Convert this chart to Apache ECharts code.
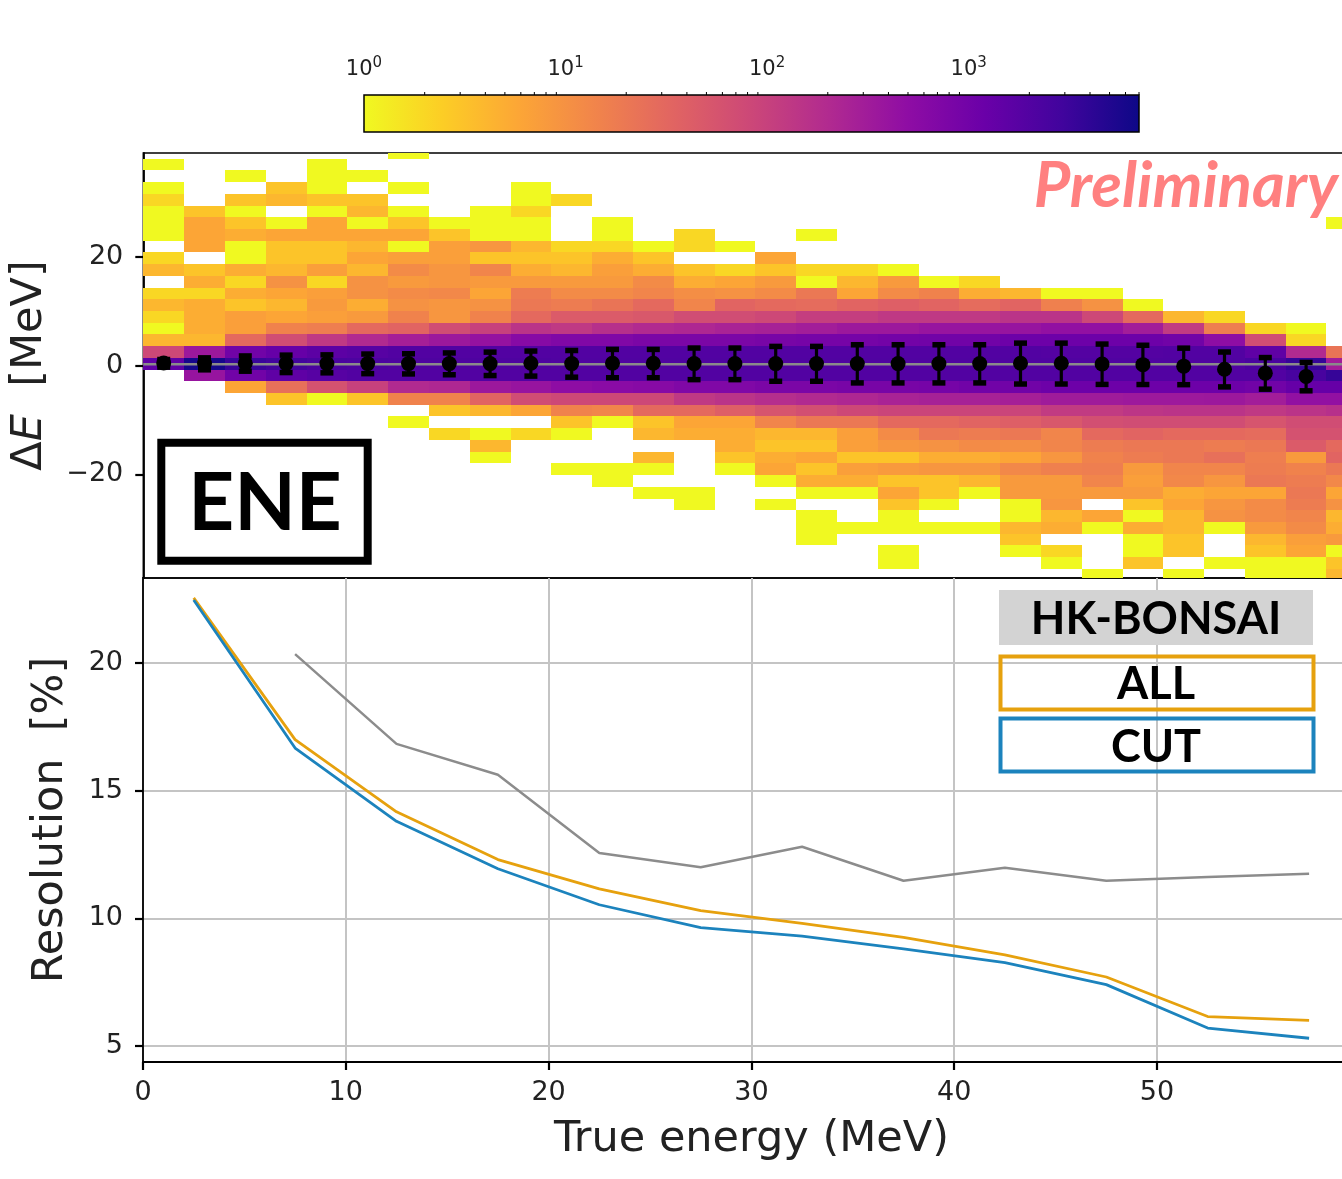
<!DOCTYPE html>
<html><head><meta charset="utf-8">
<style>html,body{margin:0;padding:0;background:#fff;overflow:hidden}#c{width:1342px;height:1179px}</style>
<script src="https://cdn.jsdelivr.net/npm/echarts@6/dist/echarts.min.js"></script>
</head><body><div id="c"></div>
<script>
// ---------- data ----------
const binWidthX = 2;
const binWidthY = 2.151;
const rowZeroLow = -0.75;
// counts per column, going upward from the row just above the centre row
const countsAbove = [
 [80,4,1,2,4,2,0,4,2,0,1,1,1,2,1,0,1],
 [350,4,5,5,5,2,5,3,0,6,6,6,3],
 [1000,30,7,7,3,5,2,5,1,1,5,3,1,3,0,1],
 [1300,70,15,6,4,6,10,4,3,3,6,1,0,4,3],
 [1600,130,17,7,8,7,2,7,3,3,6,6,1,3,1,1,1],
 [1800,200,30,8,5,10,10,4,6,4,6,1,4,3,0,1],
 [2000,280,35,15,10,12,8,12,7,1,6,3,1,0,1,0,0,1],
 [2000,350,70,9,9,13,9,9,7,7,3,1],
 [2000,420,100,15,10,6,8,14,3,9,1,1,1],
 [2000,600,150,30,20,18,8,5,3,4,1,1,2,1,1],
 [2000,700,130,45,18,12,8,4,3,2,0,0,0,2],
 [2000,700,170,45,22,12,8,7,5,2,1,1],
 [2000,800,200,50,30,14,12,5,3,1],
 [2000,800,220,70,14,11,5,3,0,2,2],
 [2000,800,250,70,35,10,6,2,0,1],
 [2000,850,270,80,30,12,8,3,6],
 [2000,900,300,110,28,20,1,2,0,0,1],
 [2000,900,350,110,35,6,4,2],
 [2000,950,350,130,40,12,8,1],
 [2000,1000,400,130,35,15,1],
 [2000,1000,400,130,28,5,2],
 [2000,1100,400,150,35,4],
 [1900,1100,450,150,16,1],
 [1900,1100,450,80,10,1],
 [1900,1100,300,30,1],
 [2000,1000,120,4],
 [2000,500,17,2],
 [1500,70,2],
 [200,2,1],
 [22,0,0,0,0,0,0,0,0,0,0,1]
];
// counts in the row that holds zero, per column
const countsCentre = [1500,6000,3300,2800,2400,2300,2200,2200,2200,2200,2100,2100,2100,2100,2100,2100,2100,2100,2100,2100,2100,2100,2100,2100,2100,2100,2100,2400,3500,300];
// counts per column, going downward from the row just below the centre row
const countsBelow = [
 [],
 [400],
 [1000,6],
 [1500,25,3],
 [1800,60,1],
 [2000,100,3],
 [2000,200,15,0,1],
 [2000,220,15,3,0,2],
 [2000,350,35,4,0,1,4,1],
 [2000,400,70,6,0,2],
 [2000,500,80,15,3,1,0,0,1],
 [2000,550,80,14,1,0,0,0,1,1],
 [2000,600,80,30,3,4,0,4,1,0,1],
 [2000,700,130,30,6,5,0,0,0,0,1,1],
 [2000,700,150,40,6,5,5,3,1],
 [2000,800,180,55,14,4,3,5,6,1,0,1],
 [2000,800,200,65,20,4,3,6,3,5,1,0,1,1,1],
 [2000,850,220,80,20,7,7,3,7,5,1,0,0,1],
 [2000,850,250,90,30,12,9,3,8,3,6,3,1,1,0,1,1],
 [2000,900,270,90,30,20,10,5,9,3,3,1,0,1],
 [2000,1000,270,90,35,18,12,5,9,4,1,0,0,1],
 [2000,1000,280,90,40,20,11,6,13,8,8,1,1,4,3,1],
 [2000,1100,320,120,50,14,14,9,16,8,8,9,4,5,0,2,1],
 [2000,1100,320,120,65,30,18,15,17,14,8,0,6,1,0,0,0,1],
 [2000,1100,340,140,70,35,20,18,8,7,8,3,1,5,1,1,3],
 [2000,1100,340,150,70,30,20,20,14,13,5,6,4,4,3,3,0,1],
 [2000,1100,350,150,70,30,18,25,14,9,6,9,10,1,0,0,1],
 [2000,1000,300,130,55,28,20,17,18,20,6,12,12,8,4,3,1,1],
 [2500,1300,450,150,70,60,45,8,15,18,20,18,14,12,7,6,1,1],
 [3500,1300,450,170,70,60,30,35,20,13,6,10,4,5,8,1,3,4]
];
const pointEnergy = [1,3,5,7,9,11,13,15,17,19,21,23,25,27,29,31,33,35,37,39,41,43,45,47,49,51,53,55,57];
const pointMean = [0.45,0.35,0.4,0.35,0.35,0.35,0.35,0.35,0.35,0.4,0.35,0.4,0.4,0.35,0.35,0.35,0.35,0.35,0.35,0.35,0.35,0.4,0.4,0.28,0.16,-0.12,-0.68,-1.4,-2.0];
const pointError = [0.7,1.1,1.4,1.6,1.65,1.8,1.85,2.0,2.15,2.3,2.45,2.6,2.6,2.9,2.9,3.2,3.2,3.5,3.5,3.5,3.5,3.75,3.75,3.7,3.6,3.35,3.2,2.9,2.6];
const zeroLine = 0.25;

const resolutionEnergy = [2.5,7.5,12.5,17.5,22.5,27.5,32.5,37.5,42.5,47.5,52.5,57.5];
const resolutionAll = [22.55,17.0,14.17,12.3,11.15,10.3,9.8,9.25,8.57,7.7,6.15,6.0];
const resolutionCut = [22.47,16.67,13.8,11.94,10.53,9.63,9.3,8.8,8.26,7.4,5.7,5.3];
const resolutionGrey = [null,20.35,16.83,15.62,12.56,12.0,12.8,11.47,11.98,11.47,11.62,11.74];

const colorMajorTicks = [1,10,100,1000];
const colorMinorTicks = [2,3,4,5,6,7,8,9,20,30,40,50,60,70,80,90,200,300,400,500,600,700,800,900,2000,3000,4000,5000,6000,7000];
const colorMax = 7000;
const deltaETicks = [-20,0,20];
const resolutionTicks = [5,10,15,20];
const plasmaReversed = ['#f0f921','#fcce25','#fca636','#f1844b','#e16462','#cc4778','#b12a90','#8f0da4','#6a00a8','#41049d','#0d0887'];

// ---------- derived series data ----------
const cellData = [];
countsCentre.forEach((c, col) => {
  const x = col * binWidthX;
  if (c > 0) cellData.push([x, rowZeroLow, c]);
  countsAbove[col].forEach((v, i) => { if (v > 0) cellData.push([x, rowZeroLow + (i + 1) * binWidthY, v]); });
  countsBelow[col].forEach((v, i) => { if (v > 0) cellData.push([x, rowZeroLow - (i + 1) * binWidthY, v]); });
});
const shade = c => echarts.color.lerp(Math.log10(c) / Math.log10(colorMax), plasmaReversed);
const errData = pointEnergy.map((e, i) => [e, pointMean[i] - pointError[i], pointMean[i] + pointError[i]]);
const meanData = pointEnergy.map((e, i) => [e, pointMean[i]]);
const pairs = a => resolutionEnergy.map((e, i) => [e, a[i]]);

const tickFont = {fontFamily:'DejaVu Sans', fontSize:27, color:'#222'};
const black = {lineStyle:{color:'#000', width:1.8}};
const tickStyle = {color:'#000', width:2.2};
const chart = echarts.init(document.getElementById('c'), null, {renderer:'canvas', width:1342, height:1179});
const sans = 'Lato';
function boxText(cx, cy, txt, size) {
  return {type:'text', z:50, style:{x:cx, y:cy, text:txt, align:'center', verticalAlign:'middle', fontFamily:sans, fontWeight:'bold', fontSize:size, fill:'#000'}};
}
chart.setOption({
  animation:false,
  backgroundColor:'#fff',
  grid:[
    {left:143.3, top:153, width:1224, height:425, show:true, borderColor:'#000', borderWidth:1.5, outerBoundsMode:'none'},
    {left:143, top:578, width:1216.8, height:484, show:true, borderColor:'#000', borderWidth:1.5, outerBoundsMode:'none'},
    {left:364, top:95, width:775, height:37, outerBoundsMode:'none'}
  ],
  xAxis:[
    {gridIndex:0, type:'value', min:0, max:60, axisLabel:{show:false}, axisTick:{show:false}, splitLine:{show:false}, axisLine:{show:false}},
    {gridIndex:1, type:'value', min:0, max:60, interval:10, axisLabel:Object.assign({margin:17}, tickFont),
     axisTick:{length:8, lineStyle:tickStyle}, axisLine:Object.assign({onZero:false}, black),
     splitLine:{show:true, lineStyle:{color:'#c4c4c4', width:2}},
     name:'True energy (MeV)', nameLocation:'middle', nameGap:56, nameTextStyle:{fontFamily:'DejaVu Sans', fontSize:43, color:'#222'}},
    {gridIndex:2, type:'log', logBase:10, min:1, max:colorMax, position:'top', axisLine:{show:false}, splitLine:{show:false},
     axisTick:{length:6, customValues:colorMajorTicks, lineStyle:{color:'#000', width:1.2}},
     axisLabel:{customValues:colorMajorTicks, margin:15, formatter:v => '{b|10}{s|' + Math.round(Math.log10(v)) + '}',
       rich:{b:{fontFamily:'DejaVu Sans', fontSize:21, color:'#222', lineHeight:24, verticalAlign:'bottom'},
             s:{fontFamily:'DejaVu Sans', fontSize:15, color:'#222', lineHeight:14, verticalAlign:'top', padding:[0,0,13,0]}}}}
  ],
  yAxis:[
    {gridIndex:0, type:'value', min:-39, max:39, axisLine:Object.assign({onZero:false}, black),
     axisTick:{length:8, customValues:deltaETicks, lineStyle:tickStyle},
     axisLabel:Object.assign({customValues:deltaETicks, margin:20, padding:[4,0,0,0], formatter:v => String(v).replace('-', '\u2212')}, tickFont),
     splitLine:{show:false},
     name:'{d|\u0394}{e|E}{d|  [MeV]}', nameLocation:'middle', nameGap:92, nameRotate:90,
     nameTextStyle:{rich:{d:{fontFamily:'DejaVu Sans', fontSize:43, color:'#222'}, e:{fontFamily:'DejaVu Sans', fontStyle:'italic', fontSize:43, color:'#222'}}}},
    {gridIndex:1, type:'value', min:4.37, max:23.33, axisLine:Object.assign({onZero:false}, black),
     axisTick:{length:8, customValues:resolutionTicks, lineStyle:tickStyle},
     axisLabel:Object.assign({customValues:resolutionTicks, margin:20, padding:[4,0,0,0]}, tickFont),
     splitLine:{show:true, lineStyle:{color:'#c4c4c4', width:2}},
     name:'Resolution  [%]', nameLocation:'middle', nameGap:71, nameRotate:90,
     nameTextStyle:{fontFamily:'DejaVu Sans', fontSize:43, color:'#222'}},
    {gridIndex:2, type:'value', min:0, max:1, show:false}
  ],
  series:[
    {type:'custom', name:'counts', xAxisIndex:0, yAxisIndex:0, clip:true, z:2, data:cellData,
     renderItem:(p, api) => {
       const a = api.coord([api.value(0), api.value(1)]);
       const b = api.coord([api.value(0) + binWidthX, api.value(1) + binWidthY]);
       const x = Math.round(a[0]), x2 = Math.round(b[0]), y = Math.round(b[1]), y2 = Math.round(a[1]);
       return {type:'rect', shape:{x:x, y:y, width:x2 - x, height:y2 - y}, style:{fill:shade(api.value(2))}};
     }},
    {type:'line', name:'zero', xAxisIndex:0, yAxisIndex:0, z:3, symbol:'none', silent:true,
     data:[[0, zeroLine],[60, zeroLine]], lineStyle:{color:'#8a8a8a', width:2.5}},
    {type:'custom', name:'error bars', xAxisIndex:0, yAxisIndex:0, z:4, data:errData,
     renderItem:(p, api) => {
       const lo = api.coord([api.value(0), api.value(1)]);
       const hi = api.coord([api.value(0), api.value(2)]);
       return {type:'group', children:[
         {type:'line', shape:{x1:lo[0], y1:lo[1], x2:hi[0], y2:hi[1]}, style:{stroke:'#000', lineWidth:3.2}},
         {type:'rect', shape:{x:lo[0] - 6.5, y:lo[1] - 2.5, width:13, height:5.5}, style:{fill:'#000'}},
         {type:'rect', shape:{x:hi[0] - 6.5, y:hi[1] - 2.5, width:13, height:5.5}, style:{fill:'#000'}}
       ]};
     }},
    {type:'scatter', name:'mean', xAxisIndex:0, yAxisIndex:0, z:5, symbolSize:15, data:meanData, itemStyle:{color:'#000', opacity:1}},
    {type:'line', name:'HK-BONSAI', xAxisIndex:1, yAxisIndex:1, z:3, symbol:'none', data:pairs(resolutionGrey), connectNulls:false, lineStyle:{color:'#8c8c8c', width:2.5}},
    {type:'line', name:'ALL', xAxisIndex:1, yAxisIndex:1, z:4, symbol:'none', data:pairs(resolutionAll), lineStyle:{color:'#e6a10e', width:2.8}},
    {type:'line', name:'CUT', xAxisIndex:1, yAxisIndex:1, z:5, symbol:'none', data:pairs(resolutionCut), lineStyle:{color:'#1c83bd', width:2.8}},
    {type:'custom', name:'colorbar', xAxisIndex:2, yAxisIndex:2, z:2, data:[[1, colorMax]],
     renderItem:(p, api) => {
       const a = api.coord([api.value(0), 0]);
       const b = api.coord([api.value(1), 1]);
       const stops = plasmaReversed.map((c, i) => ({offset:i / (plasmaReversed.length - 1), color:c}));
       return {type:'rect', shape:{x:a[0], y:b[1], width:b[0] - a[0], height:a[1] - b[1]},
         style:{fill:new echarts.graphic.LinearGradient(0, 0, 1, 0, stops), stroke:'#000', lineWidth:1.5}};
     }},
    {type:'custom', name:'minor ticks', xAxisIndex:2, yAxisIndex:2, z:3, data:colorMinorTicks.map(v => [v]),
     renderItem:(p, api) => {
       const a = api.coord([api.value(0), 1]);
       return {type:'line', shape:{x1:a[0], y1:a[1], x2:a[0], y2:a[1] - 3}, style:{stroke:'#000', lineWidth:1}};
     }}
  ],
  graphic:[
    {type:'text', z:50, style:{x:1338, y:187, text:'Preliminary', align:'right', verticalAlign:'middle', fontFamily:sans, fontWeight:'bold', fontStyle:'italic', fontSize:63, fill:'#ff8080'}},
    {type:'rect', z:40, shape:{x:161.3, y:442.7, width:206.4, height:118}, style:{fill:'#fff', stroke:'#000', lineWidth:8}},
    boxText(265, 504, 'ENE', 80),
    {type:'rect', z:40, shape:{x:999, y:590, width:314, height:55}, style:{fill:'#d3d3d3'}},
    boxText(1156, 619, 'HK-BONSAI', 45),
    {type:'rect', z:40, shape:{x:1000.5, y:656.5, width:313, height:53}, style:{fill:'rgba(255,255,255,0)', stroke:'#e6a10e', lineWidth:4}},
    boxText(1156, 684, 'ALL', 45),
    {type:'rect', z:40, shape:{x:1000.5, y:718.5, width:313, height:53}, style:{fill:'rgba(255,255,255,0)', stroke:'#1c83bd', lineWidth:4}},
    boxText(1156, 747, 'CUT', 45)
  ]
});
</script></body></html>
